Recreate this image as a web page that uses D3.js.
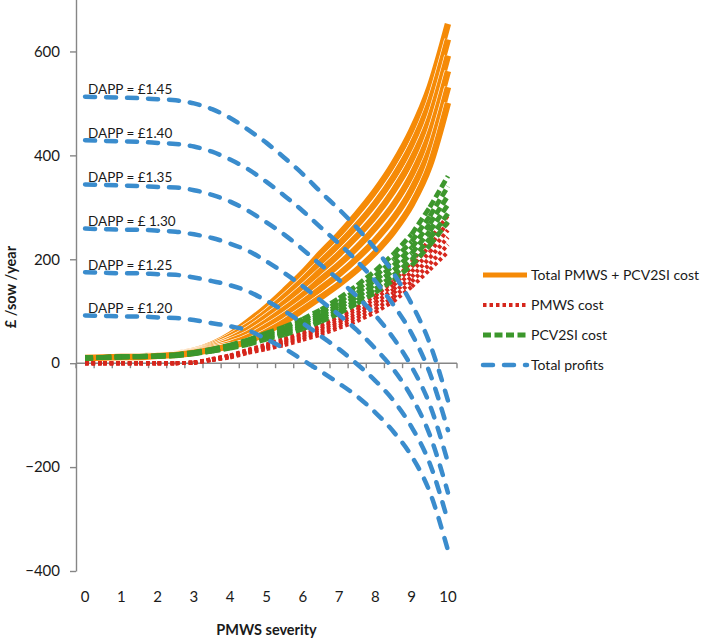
<!DOCTYPE html>
<html><head><meta charset="utf-8">
<script src="https://cdn.jsdelivr.net/npm/d3@7"></script>
<style>body{margin:0;background:#fff}</style>
</head><body>
<svg id="c" width="708" height="640"></svg>
<script>
// ---------- data ----------
const severity = [0,0.5,1,1.5,2,2.5,3,3.5,4,4.5,5,5.5,6,6.5,7,7.5,8,8.5,9,9.5,10];
const xTickLabels = ["0","1","2","3","4","5","6","7","8","9","10"];
const yTicks = [-400,-200,0,200,400,600];
const dappLabels = ["DAPP = £1.45","DAPP = £1.40","DAPP = £1.35","DAPP = £ 1.30","DAPP = £1.25","DAPP = £1.20"];
const legendLabels = ["Total PMWS + PCV2SI cost","PMWS cost","PCV2SI cost","Total profits"];

const total145 = [10,11,12,13,15,18,24,36,55,80,108,140,174,212,248,288,332,384,448,532,653];
const total140 = [10,11,12,13,15,18,23,34,51,72,98,128,160,195,229,266,308,358,419,502,623];
const total135 = [10,11,12,13,15,17,22,32,46,65,89,116,146,178,210,245,284,332,391,471,592];
const total130 = [10,11,12,12,14,17,22,30,42,57,79,104,131,161,190,223,261,305,362,441,562];
const total125 = [10,11,12,12,14,16,21,28,37,50,70,92,117,144,171,202,237,279,334,410,531];
const total120 = [10,11,12,12,14,16,20,26,33,42,60,80,103,127,152,180,213,253,305,380,501];

const pmws145 = [0,0,0,0,0,0,1,8,15,26,36,47,60,73,90,108,130,158,195,238,284];
const pmws140 = [0,0,0,0,0,0,1,8,14,25,34,45,57,69,86,103,124,150,185,226,270];
const pmws135 = [0,0,0,0,0,0,1,7,14,23,32,42,54,66,81,97,117,142,176,214,256];
const pmws130 = [0,0,0,0,0,0,1,7,13,22,31,40,51,62,77,92,111,135,166,203,242];
const pmws125 = [0,0,0,0,0,0,1,6,12,21,29,38,48,59,72,87,104,127,157,191,228];
const pmws120 = [0,0,0,0,0,0,1,6,11,20,27,35,45,55,68,81,98,119,147,180,214];

const pcv145 = [10,11,12,13,14,16,21,27,35,45,58,70,85,103,125,150,178,210,248,300,360];
const pcv140 = [10,11,12,13,14,16,20,26,34,43,55,67,81,98,118,142,168,199,234,283,340];
const pcv135 = [10,11,12,13,14,15,20,25,32,41,53,64,77,93,112,135,160,188,222,268,322];
const pcv130 = [10,11,12,13,13,15,19,24,31,40,50,61,73,88,107,128,152,179,211,254,305];
const pcv125 = [10,11,12,12,13,15,19,23,30,38,48,58,70,84,101,121,143,169,199,240,288];
const pcv120 = [10,11,12,12,13,14,18,23,29,36,46,55,66,80,96,115,136,160,188,227,272];

const profit145 = [513,512,511,510,508,506,500,489,472,449,424,395,364,329,296,260,220,173,114,38,-72];
const profit140 = [429,428,427,426,424,422,417,407,392,373,349,322,293,261,230,196,158,112,57,-19,-129];
const profit135 = [344,343,342,341,339,338,333,324,311,293,271,247,219,189,160,128,92,48,-7,-80,-191];
const profit130 = [259,258,257,257,255,253,248,241,230,216,196,173,148,120,93,63,28,-12,-65,-138,-249];
const profit125 = [175,174,173,173,171,170,165,158,150,138,120,100,77,52,27,-2,-34,-72,-123,-193,-304];
const profit120 = [92,91,90,90,88,87,83,77,71,63,46,28,6,-16,-39,-64,-95,-132,-179,-248,-360];

const totalSeries = [total145,total140,total135,total130,total125,total120];
const pmwsSeries = [pmws145,pmws140,pmws135,pmws130,pmws125,pmws120];
const pcvSeries = [pcv145,pcv140,pcv135,pcv130,pcv125,pcv120];
const profitSeries = [profit145,profit140,profit135,profit130,profit125,profit120];

// ---------- styles ----------
const C = {orange:"#F58A07", red:"#D6261C", green:"#3C972C", blue:"#3A8CCD", axis:"#868686", text:"#1a1a1a"};
const FONT = "Lato, 'Open Sans', sans-serif";

const svg = d3.select("#c");
const x = d3.scaleBand().domain(severity).range([76, 457]).paddingInner(0).paddingOuter(0);
const xc = v => x(v) + x.bandwidth()/2;
const y = d3.scaleLinear().domain([-400, 700]).range([571, -0.5]);

const line = d3.line().x((d,i)=>xc(severity[i])).y(d=>y(d)).curve(d3.curveMonotoneX);
const segLine = d3.line().x(d=>xc(d[0])).y(d=>y(d[1]));

// ---------- axes ----------
const yAxis = svg.append("g").attr("transform","translate(76,0)")
  .call(d3.axisLeft(y).tickValues(yTicks).tickSize(6).tickSizeOuter(0).tickPadding(10));
yAxis.select(".domain").attr("stroke",C.axis).attr("stroke-width",1.4);
yAxis.selectAll(".tick line").attr("stroke",C.axis).attr("stroke-width",1.4);
yAxis.selectAll(".tick text").attr("font-family",FONT).attr("font-size",15).attr("fill",C.text);

const xAxisG = svg.append("g");
const [x0, x1] = x.range();
xAxisG.append("line").attr("x1",x0).attr("x2",x1).attr("y1",y(0)).attr("y2",y(0))
  .attr("stroke",C.axis).attr("stroke-width",1.4);
const bounds = severity.map(v=>x(v)).concat([x1]);
xAxisG.selectAll("line.tk").data(bounds).enter().append("line").attr("class","tk")
  .attr("x1",d=>d).attr("x2",d=>d).attr("y1",y(0)).attr("y2",y(0)+5)
  .attr("stroke",C.axis).attr("stroke-width",1.4);
const intSev = severity.filter(v=>Number.isInteger(v));
xAxisG.selectAll("text").data(intSev).enter().append("text")
  .attr("x",v=>xc(v)).attr("y",602).attr("text-anchor","middle")
  .attr("font-family",FONT).attr("font-size",15).attr("fill",C.text)
  .text((v,i)=>xTickLabels[i]);

// axis titles
svg.append("text").attr("x",(x0+x1)/2).attr("y",635).attr("text-anchor","middle")
  .attr("font-family",FONT).attr("font-size",14.5).attr("font-weight","bold").attr("fill",C.text)
  .text("PMWS severity");
svg.append("text").attr("transform",`translate(16,${287}) rotate(-90)`).attr("text-anchor","middle")
  .attr("font-family",FONT).attr("font-size",14.5).attr("font-weight","bold").attr("fill",C.text)
  .text("£ /sow /year");

// ---------- series ----------
const plot = svg.append("g");
totalSeries.forEach(arr=>{
  plot.append("path").datum(arr).attr("d",line).attr("fill","none")
    .attr("stroke","#fff").attr("stroke-width",7.6);
  plot.append("path").datum(arr).attr("d",line).attr("fill","none")
    .attr("stroke",C.orange).attr("stroke-width",6.4);
});
function segments(arr){ return d3.range(arr.length-1).map(i=>[[severity[i],arr[i]],[severity[i+1],arr[i+1]]]); }
pmwsSeries.forEach(arr=>{
  plot.append("g").selectAll("path").data(segments(arr)).enter().append("path")
    .attr("d",segLine).attr("fill","none").attr("stroke",C.red).attr("stroke-width",4)
    .attr("stroke-dasharray","3.5,3");
});
pcvSeries.forEach(arr=>{
  plot.append("g").selectAll("path").data(segments(arr)).enter().append("path")
    .attr("d",segLine).attr("fill","none").attr("stroke",C.green).attr("stroke-width",4.8)
    .attr("stroke-dasharray","8,3.5");
});
profitSeries.forEach(arr=>{
  plot.append("path").datum(arr).attr("d",line).attr("fill","none")
    .attr("stroke",C.blue).attr("stroke-width",4.5).attr("stroke-linecap","round")
    .attr("stroke-dasharray","10,11");
});

// DAPP labels
svg.append("g").selectAll("text").data(profitSeries).enter().append("text")
  .attr("x",88).attr("y",d=>y(d[0])-2.5)
  .attr("font-family",FONT).attr("font-size",13.5).attr("fill",C.text)
  .text((d,i)=>dappLabels[i]);

// ---------- legend ----------
const legStyles = [
  {stroke:C.orange, w:5, dash:null, cap:"butt"},
  {stroke:C.red, w:4, dash:"3.5,3", cap:"butt"},
  {stroke:C.green, w:4.8, dash:"8,3.5", cap:"butt"},
  {stroke:C.blue, w:4.5, dash:"10,11", cap:"round"}
];
const leg = svg.append("g");
legendLabels.forEach((lab,i)=>{
  const ly = 275 + i*30;
  const s = legStyles[i];
  leg.append("line").attr("x1",483).attr("x2",527).attr("y1",ly).attr("y2",ly)
    .attr("stroke",s.stroke).attr("stroke-width",s.w).attr("stroke-linecap",s.cap)
    .attr("stroke-dasharray",s.dash);
  leg.append("text").attr("x",531).attr("y",ly+5)
    .attr("font-family",FONT).attr("font-size",14).attr("fill",C.text).text(lab);
});
</script>
</body></html>
